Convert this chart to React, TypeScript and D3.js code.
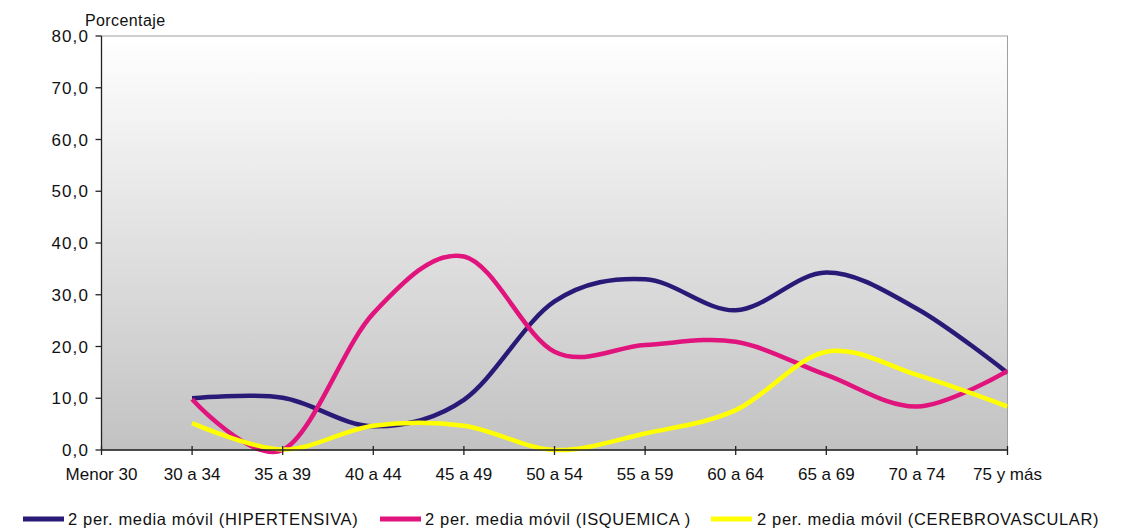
import React from "react";
import * as d3 from "d3";

const categories = ["Menor 30", "30 a 34", "35 a 39", "40 a 44", "45 a 49", "50 a 54", "55 a 59", "60 a 64", "65 a 69", "70 a 74", "75 y más"];
const hipertensiva = [null, 10.0, 10.1, 4.6, 9.7, 28.7, 33.0, 27.0, 34.3, 27.3, 14.9];
const isquemica = [null, 9.8, 0.0, 26.4, 37.4, 19.0, 20.3, 20.9, 14.5, 8.4, 15.3];
const cerebrovascular = [null, 5.2, 0.1, 4.7, 4.7, 0.0, 3.2, 7.7, 19.0, 14.5, 8.4];
const yTicks = [0, 10, 20, 30, 40, 50, 60, 70, 80];

const seriesList = [
  { name: "2 per. media móvil (HIPERTENSIVA)", values: hipertensiva, color: "#2a1a78" },
  { name: "2 per. media móvil (ISQUEMICA )", values: isquemica, color: "#e0147c" },
  { name: "2 per. media móvil (CEREBROVASCULAR)", values: cerebrovascular, color: "#ffff00" },
];

const W = 1129, H = 529;
const L = 101.5, R = 1007.5, T = 36, B = 450;
const FONT = "Arial, 'Liberation Sans', sans-serif";

export default function App() {
  const x = d3.scalePoint<string>().domain(categories).range([L, R]);
  const y = d3.scaleLinear().domain([0, 80]).range([B, T]);
  const line = d3
    .line<[string, number | null]>()
    .defined((d) => d[1] != null)
    .x((d) => x(d[0]) as number)
    .y((d) => y(d[1] as number))
    .curve(d3.curveCardinal.tension(0));

  const legendItems = [
    { sx: 23, tx: 68 },
    { sx: 380, tx: 425 },
    { sx: 711, tx: 757 },
  ];

  return (
    <svg width={W} height={H} style={{ position: "absolute", left: 0, top: 0 }} fontFamily={FONT}>
      <defs>
        <linearGradient id="bg" x1="0" y1="0" x2="0" y2="1">
          <stop offset="0" stopColor="#ffffff" />
          <stop offset="1" stopColor="#c2c2c2" />
        </linearGradient>
        <clipPath id="clip">
          <rect x={L} y={T - 5} width={R - L} height={B - T + 10} />
        </clipPath>
      </defs>
      <rect x={L} y={T} width={R - L} height={B - T} fill="url(#bg)" stroke="#a0a0a0" strokeWidth={1} />
      <g clipPath="url(#clip)">
        {seriesList.map((s) => (
          <path
            key={s.name}
            d={line(categories.map((c, i) => [c, s.values[i]] as [string, number | null])) || ""}
            fill="none"
            stroke={s.color}
            strokeWidth={4.5}
          />
        ))}
      </g>
      <line x1={L} x2={L} y1={T} y2={B} stroke="#222" strokeWidth={1.3} />
      {yTicks.map((t) => (
        <g key={t}>
          <line x1={L - 6} x2={L} y1={y(t)} y2={y(t)} stroke="#222" strokeWidth={1.3} />
          <text x={89} y={y(t)} dy="0.36em" textAnchor="end" fontSize={17} letterSpacing={1.1} fill="#111">
            {d3.format(".1f")(t).replace(".", ",")}
          </text>
        </g>
      ))}
      <text x={85} y={26} fontSize={16} letterSpacing={0.4} fill="#111">Porcentaje</text>
      <line x1={L} x2={R} y1={B} y2={B} stroke="#222" strokeWidth={1.3} />
      {categories.map((c) => (
        <g key={c}>
          <line x1={x(c)} x2={x(c)} y1={B - 4} y2={B + 5} stroke="#222" strokeWidth={1.3} />
          <text x={x(c)} y={480} textAnchor="middle" fontSize={17} fill="#111">{c}</text>
        </g>
      ))}
      {seriesList.map((s, i) => (
        <g key={s.name}>
          <line x1={legendItems[i].sx} x2={legendItems[i].sx + 41} y1={519} y2={519} stroke={s.color} strokeWidth={5} />
          <text x={legendItems[i].tx} y={525} fontSize={16.5} letterSpacing={0.65} fill="#111">{s.name}</text>
        </g>
      ))}
    </svg>
  );
}
